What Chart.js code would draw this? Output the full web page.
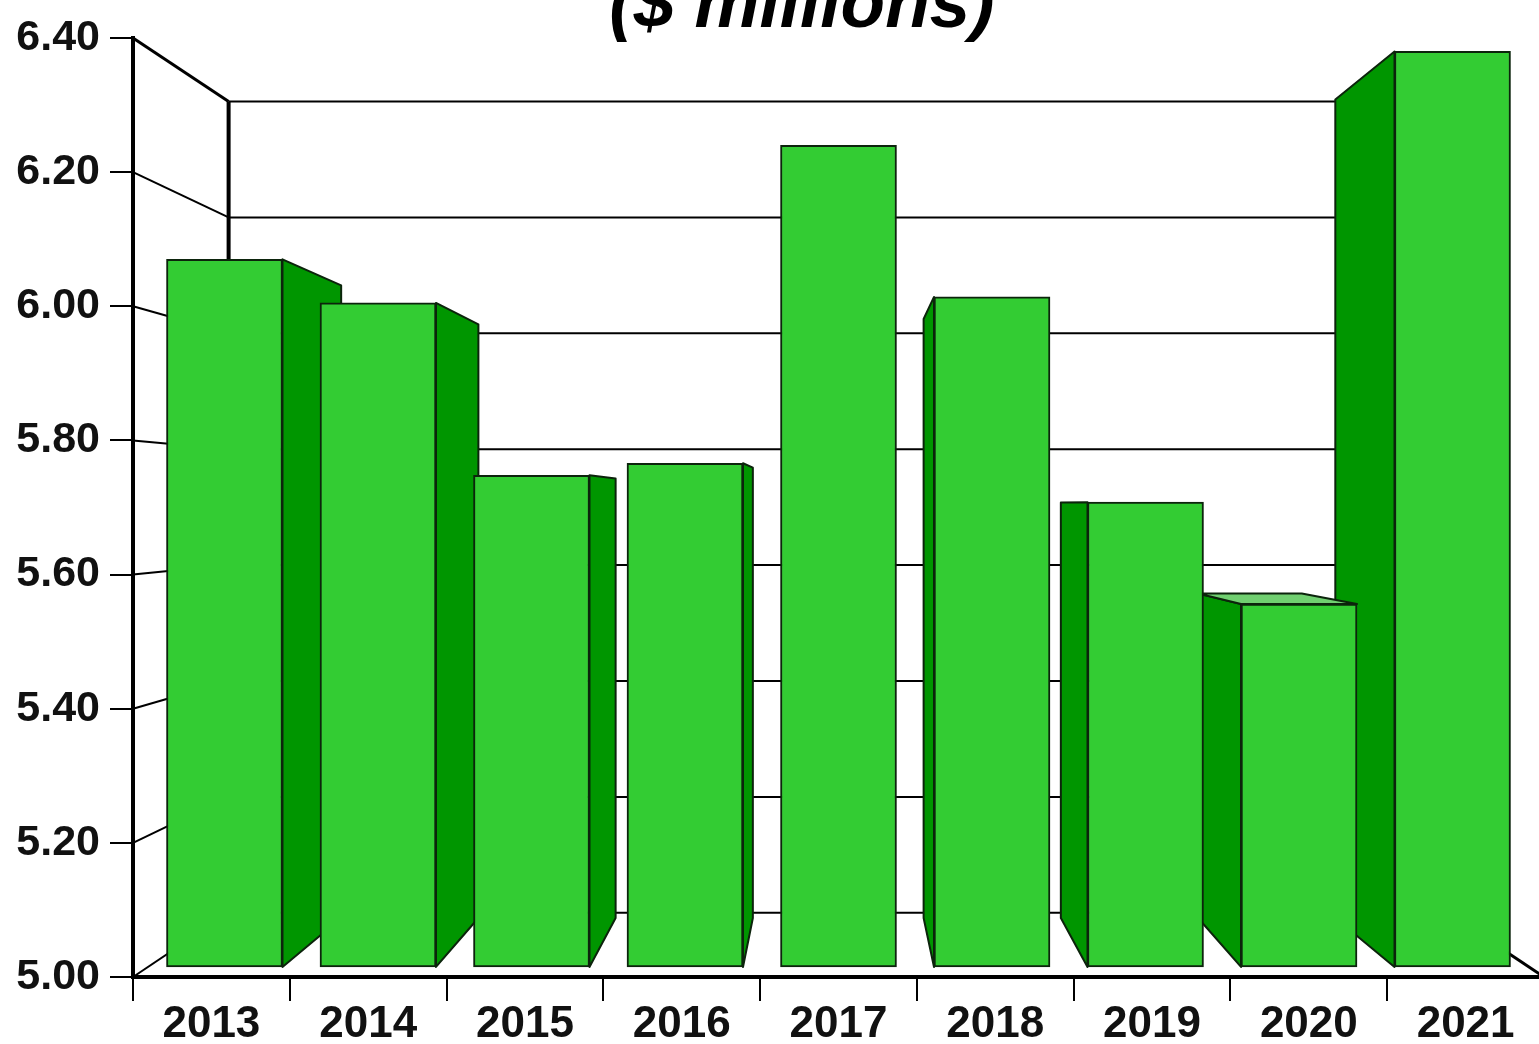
<!DOCTYPE html>
<html>
<head>
<meta charset="utf-8">
<title>($ millions)</title>
<script src="https://cdn.jsdelivr.net/npm/chart.js@4"></script>
<style>
    html, body { margin: 0; background: #fff; overflow: hidden; }
    #wrap { position: relative; width: 1539px; height: 1044px; overflow: hidden; }
    /* the source picture is cropped, so the canvas hangs over the top and right edge */
    #barChart { position: absolute; left: 0; top: -60px; }
</style>
</head>
<body>
<div id="wrap"><canvas id="barChart" width="1604" height="1110"></canvas></div>
<script>
const years = ['2013', '2014', '2015', '2016', '2017', '2018', '2019', '2020', '2021'];
const barValues = [6.07, 6.005, 5.748, 5.766, 6.24, 6.014, 5.708, 5.556, 6.38];
const barBase = 5.015;
const yMin = 5;
const yMax = 6.4;
const yStep = 0.2;
const titleText = '($ millions)';

// fake 3D: everything recedes towards this point (canvas coordinates)
const vanishX = 836;
const vanishY = 565;
const barDepth = 0.106;
const wallDepth = 0.136;
const wallRight = 1336;

const frontColor = '#33cc33';
const sideColor = '#009600';
const topColor = '#70d070';
const edgeColor = '#0c240c';
const textColor = '#111';

function recede(x, y, depth) {
    return [x + (vanishX - x) * depth, y + (vanishY - y) * depth];
}

function polygon(ctx, points, fill) {
    ctx.beginPath();
    ctx.moveTo(points[0][0], points[0][1]);
    points.slice(1).forEach(p => ctx.lineTo(p[0], p[1]));
    ctx.closePath();
    ctx.fillStyle = fill;
    ctx.fill();
    ctx.lineWidth = 2;
    ctx.lineJoin = 'round';
    ctx.strokeStyle = edgeColor;
    ctx.stroke();
}

function line(ctx, x1, y1, x2, y2, width) {
    ctx.beginPath();
    ctx.moveTo(x1, y1);
    ctx.lineTo(x2, y2);
    ctx.lineWidth = width;
    ctx.strokeStyle = '#000';
    ctx.stroke();
}

const depthPlugin = {
    id: 'depth',
    beforeDatasetsDraw(chart) {
        const ctx = chart.ctx;
        const y = chart.scales.y;
        const left = chart.chartArea.left;
        const right = chart.chartArea.right;
        const floorY = y.getPixelForValue(yMin);
        ctx.save();

        // back wall and the slanted lines from the axis ticks
        y.ticks.forEach(tick => {
            const py = y.getPixelForValue(tick.value);
            const back = recede(left, py, wallDepth);
            line(ctx, left, py, back[0], back[1], tick.value === yMax ? 3 : 2);
            line(ctx, back[0], back[1], wallRight, back[1], 2);
        });
        const wallTop = recede(left, y.getPixelForValue(yMax), wallDepth);
        const wallBottom = recede(left, floorY, wallDepth);
        line(ctx, wallTop[0], wallTop[1], wallBottom[0], wallBottom[1], 4);

        const floorRight = recede(right, floorY, wallDepth);
        line(ctx, right, floorY, floorRight[0], floorRight[1], 3);

        // sides first, outermost bars first; the library paints the fronts over them
        const bars = chart.getDatasetMeta(0).data.slice();
        bars.sort((a, b) => Math.abs(b.x - vanishX) - Math.abs(a.x - vanishX));
        bars.forEach(bar => {
            const x1 = bar.x - bar.width / 2;
            const x2 = bar.x + bar.width / 2;
            if (x2 < vanishX) {
                polygon(ctx, [[x2, bar.y], recede(x2, bar.y, barDepth), recede(x2, bar.base, barDepth), [x2, bar.base]], sideColor);
            }
            if (x1 > vanishX) {
                polygon(ctx, [[x1, bar.y], recede(x1, bar.y, barDepth), recede(x1, bar.base, barDepth), [x1, bar.base]], sideColor);
            }
            if (bar.y > vanishY) {
                polygon(ctx, [[x1, bar.y], [x2, bar.y], recede(x2, bar.y, barDepth), recede(x1, bar.y, barDepth)], topColor);
            }
        });
        ctx.restore();
    }
};

new Chart(document.getElementById('barChart'), {
    type: 'bar',
    data: {
        datasets: [{
            label: 'Value',
            xAxisID: 'xBars',
            data: barValues.map((v, i) => ({ x: i, y: v })),
            base: barBase,
            barThickness: 116,
            backgroundColor: frontColor,
            borderColor: edgeColor,
            borderWidth: 2,
            borderSkipped: false
        }]
    },
    options: {
        responsive: false,
        animation: false,
        plugins: {
            legend: { display: false },
            tooltip: { enabled: false },
            title: {
                display: true,
                text: titleText,
                color: '#000',
                font: { family: 'Liberation Sans', size: 73, weight: 'bold', style: 'italic', lineHeight: 0.8 },
                padding: { top: 37.8, bottom: 1.8 }
            }
        },
        scales: {
            // the bars sit on a slightly tighter spacing than the axis labels
            xBars: { type: 'linear', axis: 'x', display: false, offset: false, min: -0.596, max: 8.596 },
            x: {
                type: 'category',
                labels: years,
                offset: true,
                afterFit(scale) {
                    scale.height = 73;
                    scale.paddingRight = 60;
                },
                border: { color: '#000', width: 4 },
                grid: { offset: true, drawOnChartArea: false, color: '#000', tickColor: '#000', tickLength: 24, lineWidth: 2 },
                ticks: { color: textColor, maxRotation: 0, autoSkip: false, padding: -3, font: { family: 'Liberation Sans', size: 44, weight: 'bold' } }
            },
            y: {
                min: yMin,
                max: yMax,
                afterFit(scale) { scale.width = 133; },
                border: { color: '#000', width: 4 },
                grid: { drawOnChartArea: false, color: '#000', tickColor: '#000', tickLength: 23, lineWidth: 2 },
                ticks: {
                    stepSize: yStep,
                    color: textColor,
                    padding: 10,
                    font: { family: 'Liberation Sans', size: 43, weight: 'bold' },
                    callback: v => v.toFixed(2)
                }
            }
        }
    },
    plugins: [depthPlugin]
});
</script>
</body>
</html>
